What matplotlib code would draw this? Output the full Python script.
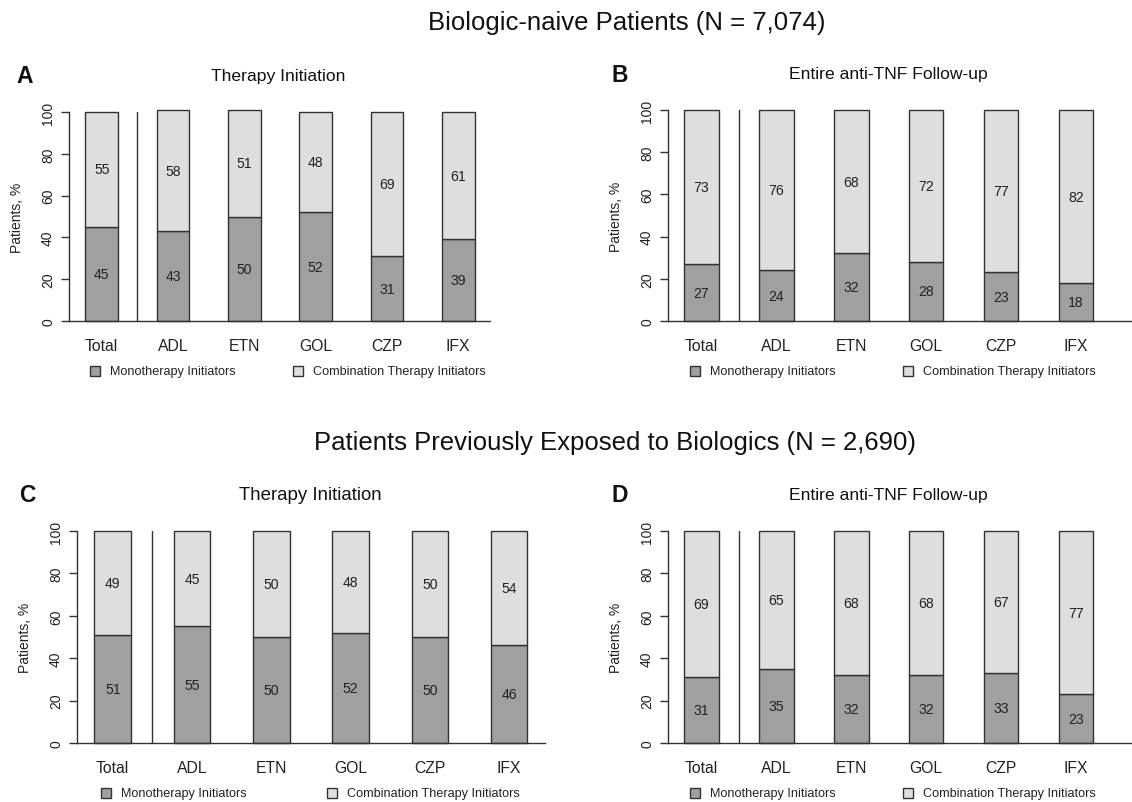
import numpy as np
import matplotlib
matplotlib.use("Agg")
import matplotlib.pyplot as plt
from matplotlib import font_manager
from matplotlib.patches import Rectangle

W, H = 1132, 803

# data
DRUGS = ["Total", "ADL", "ETN", "GOL", "CZP", "IFX"]
mono_A = [45, 43, 50, 52, 31, 39]
comb_A = [55, 58, 51, 48, 69, 61]
mono_B = [27, 24, 32, 28, 23, 18]
comb_B = [73, 76, 68, 72, 77, 82]
mono_C = [51, 55, 50, 52, 50, 46]
comb_C = [49, 45, 50, 48, 50, 54]
mono_D = [31, 35, 32, 32, 33, 23]
comb_D = [69, 65, 68, 68, 67, 77]
YTICKS = [0, 20, 40, 60, 80, 100]

TITLE_TOP = "Biologic-naive Patients (N = 7,074)"
TITLE_BOT = "Patients Previously Exposed to Biologics (N = 2,690)"
LEG_MONO = "Monotherapy Initiators"
LEG_COMB = "Combination Therapy Initiators"

DARK = "#a0a0a0"
LIGHT = "#dedede"
EDGE = "#333333"
TXT = "#222222"

names = {f.name for f in font_manager.fontManager.ttflist}
if "Liberation Sans Narrow" in names:
    NARROW, NS = "Liberation Sans Narrow", 1.0
else:
    NARROW, NS = "Liberation Sans", 0.84
REG = "Liberation Sans"

# panel layout in pixels: letter, title, yaxis x, baseline end, y0, y100, first bar x, spacing
PANELS = [
    ("A", "Therapy Initiation", mono_A, comb_A, 69, 490, 322, 113, 101.7, 71.3, 278, 25, 15),
    ("B", "Entire anti-TNF Follow-up", mono_B, comb_B, 668, 1132, 322, 111, 701.5, 74.9, 888, 620, 15),
    ("C", "Therapy Initiation", mono_C, comb_C, 77, 545, 744, 532, 112.7, 79.3, 310, 27, 16),
    ("D", "Entire anti-TNF Follow-up", mono_D, comb_D, 668, 1132, 744, 532, 701.5, 74.9, 888, 620, 15),
]


def fx(x):
    return x / W


def fy(y):
    return 1 - y / H


fig = plt.figure(figsize=(W / 100, H / 100), dpi=100)

for letter, title, mono, comb, yax, bend, y0, y100, c0, sp, tx, lx, tfs in PANELS:
    ax = fig.add_axes([fx(yax), fy(y0), (bend - yax) / W, (y0 - y100) / H])
    ax.set_xlim((yax - c0) / sp, (bend - c0) / sp)
    ax.set_ylim(0, 100)
    x = np.arange(len(DRUGS))
    ax.bar(x, mono, width=0.46, color=DARK, edgecolor=EDGE, lw=1.0, clip_on=False)
    ax.bar(x, comb, bottom=mono, width=0.46, color=LIGHT, edgecolor=EDGE, lw=1.0,
           clip_on=False)
    for xi, m, c in zip(x, mono, comb):
        ax.text(xi, m / 2, f"{m}", ha="center", va="center", fontsize=12 * NS,
                family=NARROW, color=TXT)
        ax.text(xi, m + c / 2, f"{c}", ha="center", va="center", fontsize=12 * NS,
                family=NARROW, color=TXT)
    ax.plot([0.5, 0.5], [0, 100], color=EDGE, lw=1.0)

    ax.spines["top"].set_visible(False)
    ax.spines["right"].set_visible(False)
    ax.spines["left"].set_bounds(0, 100)
    ax.spines["left"].set_color(EDGE)
    ax.spines["bottom"].set_color(EDGE)
    ax.spines["left"].set_linewidth(1.0)
    ax.spines["bottom"].set_linewidth(1.0)

    ax.set_yticks(YTICKS)
    ax.set_yticklabels([str(t) for t in YTICKS], rotation=90, va="center",
                       fontsize=10, family=REG, color=TXT)
    ax.tick_params(axis="y", length=6, width=1.0, color=EDGE, pad=4)
    ax.set_xticks(x)
    ax.set_xticklabels(DRUGS, fontsize=13.5 * NS, family=NARROW, color=TXT)
    ax.tick_params(axis="x", length=0, pad=12)

    ymid = (y0 + y100) / 2
    fig.text(fx(yax - 52), fy(ymid), "Patients, %", rotation=90, ha="center",
             va="center", fontsize=10, family=REG, color=TXT)
    fig.text(fx(tx), fy(y100 - 36), title, ha="center", va="center",
             fontsize=tfs * NS, family=NARROW, color="#111111")
    fig.text(fx(lx), fy(y100 - 36), letter, ha="center", va="center",
             fontsize=16.5, family=REG, weight="bold", color="#111111")

    # legend row
    ly = y0 + 50
    if yax < 300:
        msq, csq = yax + 26 if letter == "A" else yax + 29, 298 if letter == "A" else 332
    else:
        msq, csq = 695, 908
    for sx, lab, col in [(msq, LEG_MONO, DARK), (csq, LEG_COMB, LIGHT)]:
        fig.patches.append(Rectangle((fx(sx - 5), fy(ly + 5)), 10 / W, 10 / H,
                                     transform=fig.transFigure, facecolor=col,
                                     edgecolor=EDGE, lw=1.0))
        fig.text(fx(sx + 15), fy(ly), lab, ha="left", va="center",
                 fontsize=10.8 * NS, family=NARROW, color=TXT)

fig.text(fx(627), fy(23), TITLE_TOP, ha="center", va="center", fontsize=18.5,
         family=REG, color="#111111")
fig.text(fx(615), fy(443), TITLE_BOT, ha="center", va="center", fontsize=18.5,
         family=REG, color="#111111")

fig.savefig("out.png", dpi=100)
